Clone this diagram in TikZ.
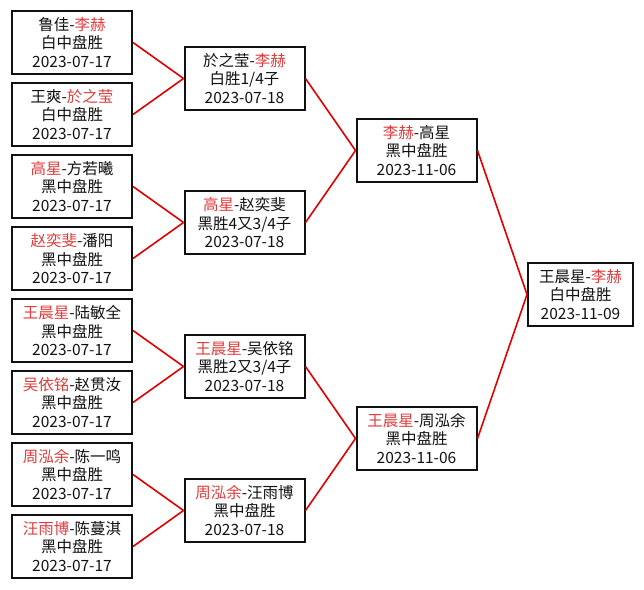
\documentclass[tikz,border=0pt]{standalone}
\usepackage{xcolor}
\usepackage{fontspec}
\setmainfont{Noto Sans CJK SC}
\usepackage{tikz}
\usetikzlibrary{positioning}
\definecolor{ink}{HTML}{111111}
\definecolor{winred}{HTML}{E03C3C}
\definecolor{wire}{HTML}{E00000}
\newcommand{\win}[1]{\textcolor{winred}{#1}}

\begin{document}
\begin{tikzpicture}[x=1pt,y=-1pt,
  game/.style={draw=ink,line width=2pt,fill=white,minimum width=120pt,
    minimum height=63pt,align=center,text=ink,inner sep=0pt,
    font=\fontsize{15.5}{18.5}\selectfont},
  final/.style={game,minimum width=105pt},
  link/.style={draw=wire,line width=1.6pt}
]
\fill[white] (0,0) rectangle (644,589);
\useasboundingbox (0,0) rectangle (644,589);
% first round
\node[game] (m1) at (72,42.5) {鲁佳-\win{李赫}\\白中盘胜\\2023-07-17};
\node[game] (m2) at (72,114.5) {王爽-\win{於之莹}\\白中盘胜\\2023-07-17};
\node[game] (m3) at (72,186.5) {\win{高星}-方若曦\\黑中盘胜\\2023-07-17};
\node[game] (m4) at (72,258.5) {\win{赵奕斐}-潘阳\\黑中盘胜\\2023-07-17};
\node[game] (m5) at (72,330.5) {\win{王晨星}-陆敏全\\黑中盘胜\\2023-07-17};
\node[game] (m6) at (72,402.5) {\win{吴依铭}-赵贯汝\\黑中盘胜\\2023-07-17};
\node[game] (m7) at (72,474.5) {\win{周泓余}-陈一鸣\\黑中盘胜\\2023-07-17};
\node[game] (m8) at (72,546.5) {\win{汪雨博}-陈蔓淇\\黑中盘胜\\2023-07-17};
% second round
\node[game] (q1) at (244.5,78.5) {於之莹-\win{李赫}\\白胜1/4子\\2023-07-18};
\node[game] (q2) at (244.5,222.5) {\win{高星}-赵奕斐\\黑胜4又3/4子\\2023-07-18};
\node[game] (q3) at (244.5,366.5) {\win{王晨星}-吴依铭\\黑胜2又3/4子\\2023-07-18};
\node[game] (q4) at (244.5,510.5) {\win{周泓余}-汪雨博\\黑中盘胜\\2023-07-18};
% semifinals
\node[game] (s1) at (416.5,150.5) {\win{李赫}-高星\\黑中盘胜\\2023-11-06};
\node[game] (s2) at (416.5,438.5) {\win{王晨星}-周泓余\\黑中盘胜\\2023-11-06};
% final
\node[final] (f) at (580.5,294.5) {王晨星-\win{李赫}\\白中盘胜\\2023-11-09};
\draw[link] (m1.east) -- (q1.west);
\draw[link] (m2.east) -- (q1.west);
\draw[link] (m3.east) -- (q2.west);
\draw[link] (m4.east) -- (q2.west);
\draw[link] (m5.east) -- (q3.west);
\draw[link] (m6.east) -- (q3.west);
\draw[link] (m7.east) -- (q4.west);
\draw[link] (m8.east) -- (q4.west);
\draw[link] (q1.east) -- (s1.west);
\draw[link] (q2.east) -- (s1.west);
\draw[link] (q3.east) -- (s2.west);
\draw[link] (q4.east) -- (s2.west);
\draw[link] (s1.east) -- (f.west);
\draw[link] (s2.east) -- (f.west);
\end{tikzpicture}
\end{document}
